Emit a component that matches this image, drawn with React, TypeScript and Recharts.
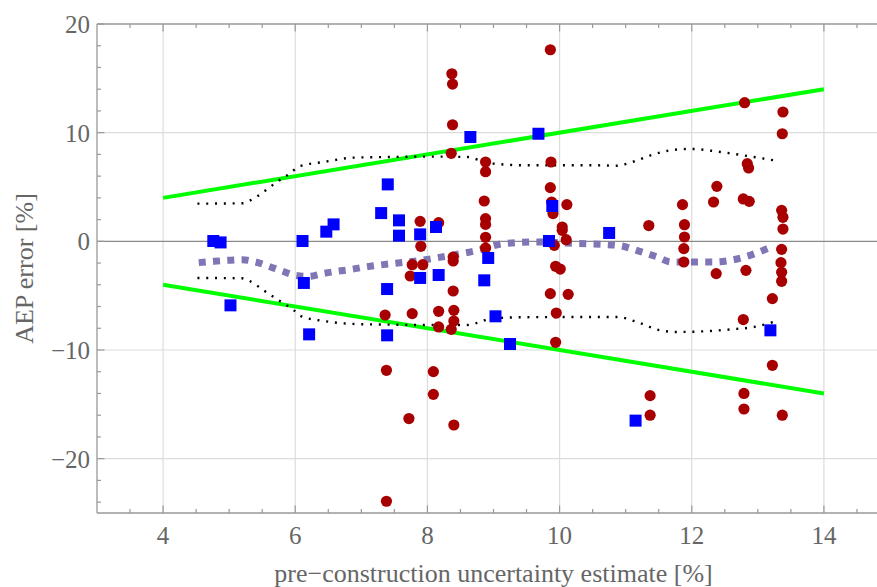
import {
  ComposedChart,
  Line,
  Scatter,
  XAxis,
  YAxis,
  ReferenceLine,
  Label,
} from "recharts";

// ---- data ----
const blueSquares = [
  { x: 4.76, y: 0.03 },
  { x: 4.87, y: -0.1 },
  { x: 5.02, y: -5.89 },
  { x: 6.11, y: 0.03 },
  { x: 6.13, y: -3.83 },
  { x: 6.21, y: -8.56 },
  { x: 6.47, y: 0.89 },
  { x: 6.58, y: 1.56 },
  { x: 7.3, y: 2.6 },
  { x: 7.4, y: 5.24 },
  { x: 7.39, y: -4.39 },
  { x: 7.39, y: -8.65 },
  { x: 7.57, y: 1.93 },
  { x: 7.57, y: 0.52 },
  { x: 7.89, y: 0.64 },
  { x: 8.13, y: 1.32 },
  { x: 8.65, y: 9.6 },
  { x: 9.68, y: 9.9 },
  { x: 9.89, y: 3.25 },
  { x: 9.84, y: 0.03 },
  { x: 10.75, y: 0.77 },
  { x: 8.92, y: -1.53 },
  { x: 7.89, y: -3.37 },
  { x: 8.17, y: -3.1 },
  { x: 8.86, y: -3.59 },
  { x: 9.03, y: -6.9 },
  { x: 9.25, y: -9.45 },
  { x: 11.15, y: -16.5 },
  { x: 13.19, y: -8.19 },
];

const redCircles = [
  { x: 9.86, y: 17.63 },
  { x: 8.37, y: 15.42 },
  { x: 8.38, y: 14.47 },
  { x: 8.38, y: 10.73 },
  { x: 8.36, y: 8.1 },
  { x: 8.88, y: 7.3 },
  { x: 8.88, y: 6.41 },
  { x: 8.86, y: 3.71 },
  { x: 8.88, y: 2.09 },
  { x: 8.88, y: 1.56 },
  { x: 8.88, y: 0.37 },
  { x: 8.88, y: -0.62 },
  { x: 7.89, y: 1.84 },
  { x: 8.17, y: 1.72 },
  { x: 7.9, y: -0.46 },
  { x: 9.87, y: 7.3 },
  { x: 9.86, y: 4.94 },
  { x: 9.88, y: 3.62 },
  { x: 9.9, y: 2.55 },
  { x: 10.11, y: 3.38 },
  { x: 10.04, y: 1.32 },
  { x: 10.04, y: 1.01 },
  { x: 10.1, y: 0.15 },
  { x: 9.92, y: -0.37 },
  { x: 11.35, y: 1.45 },
  { x: 8.39, y: -1.44 },
  { x: 8.39, y: -1.81 },
  { x: 7.77, y: -2.15 },
  { x: 7.93, y: -2.15 },
  { x: 7.74, y: -3.19 },
  { x: 8.39, y: -4.57 },
  { x: 8.4, y: -6.35 },
  { x: 8.4, y: -7.33 },
  { x: 8.36, y: -8.1 },
  { x: 8.17, y: -6.44 },
  { x: 8.17, y: -7.88 },
  { x: 7.77, y: -6.65 },
  { x: 7.36, y: -6.78 },
  { x: 7.38, y: -11.87 },
  { x: 8.09, y: -11.99 },
  { x: 8.09, y: -14.08 },
  { x: 7.72, y: -16.31 },
  { x: 8.4, y: -16.9 },
  { x: 7.38, y: -23.92 },
  { x: 9.94, y: -2.3 },
  { x: 10.01, y: -2.55 },
  { x: 9.86, y: -4.81 },
  { x: 10.13, y: -4.88 },
  { x: 9.95, y: -6.6 },
  { x: 9.94, y: -9.29 },
  { x: 11.37, y: -14.2 },
  { x: 11.37, y: -16.0 },
  { x: 12.8, y: 12.76 },
  { x: 13.38, y: 11.9 },
  { x: 13.37, y: 9.9 },
  { x: 12.84, y: 7.15 },
  { x: 12.86, y: 6.75 },
  { x: 12.38, y: 5.06 },
  { x: 12.33, y: 3.62 },
  { x: 12.78, y: 3.9 },
  { x: 12.87, y: 3.68 },
  { x: 11.86, y: 3.38 },
  { x: 11.89, y: 1.53 },
  { x: 11.89, y: 0.4 },
  { x: 11.88, y: -0.67 },
  { x: 13.36, y: 2.85 },
  { x: 13.38, y: 2.21 },
  { x: 13.38, y: 1.13 },
  { x: 13.36, y: -0.74 },
  { x: 11.88, y: -1.9 },
  { x: 12.37, y: -2.97 },
  { x: 12.82, y: -2.67 },
  { x: 13.35, y: -1.96 },
  { x: 13.36, y: -2.85 },
  { x: 13.36, y: -3.68 },
  { x: 13.22, y: -5.27 },
  { x: 12.78, y: -7.2 },
  { x: 13.22, y: -11.41 },
  { x: 12.79, y: -14.0 },
  { x: 12.79, y: -15.43 },
  { x: 13.37, y: -16.0 },
];

const greenUpper = [
  { x: 4, y: 4 },
  { x: 14, y: 14 },
];
const greenLower = [
  { x: 4, y: -4 },
  { x: 14, y: -14 },
];

const dottedUpper = [
  { x: 4.52, y: 3.47 },
  { x: 5.2, y: 3.5 },
  { x: 5.32, y: 3.77 },
  { x: 5.52, y: 4.54 },
  { x: 5.72, y: 5.46 },
  { x: 5.88, y: 6.07 },
  { x: 6.08, y: 6.93 },
  { x: 6.43, y: 7.3 },
  { x: 6.88, y: 7.7 },
  { x: 7.4, y: 7.76 },
  { x: 8.0, y: 7.8 },
  { x: 8.6, y: 7.76 },
  { x: 8.8, y: 7.45 },
  { x: 9.0, y: 7.15 },
  { x: 9.5, y: 7.0 },
  { x: 10.0, y: 7.0 },
  { x: 10.5, y: 7.0 },
  { x: 10.87, y: 6.96 },
  { x: 11.1, y: 7.3 },
  { x: 11.4, y: 7.95 },
  { x: 11.7, y: 8.4 },
  { x: 12.0, y: 8.5 },
  { x: 12.4, y: 8.25 },
  { x: 12.9, y: 7.8 },
  { x: 13.25, y: 7.45 },
];

const dottedLower = [
  { x: 4.52, y: -3.37 },
  { x: 5.19, y: -3.4 },
  { x: 5.31, y: -3.65 },
  { x: 5.52, y: -4.5 },
  { x: 5.75, y: -5.43 },
  { x: 5.98, y: -6.35 },
  { x: 6.08, y: -6.87 },
  { x: 6.43, y: -7.33 },
  { x: 6.88, y: -7.6 },
  { x: 7.44, y: -7.67 },
  { x: 8.0, y: -7.7 },
  { x: 8.6, y: -7.7 },
  { x: 8.8, y: -7.42 },
  { x: 8.96, y: -7.1 },
  { x: 9.5, y: -6.98 },
  { x: 10.0, y: -6.97 },
  { x: 10.5, y: -6.97 },
  { x: 10.87, y: -6.96 },
  { x: 11.17, y: -7.42 },
  { x: 11.52, y: -8.19 },
  { x: 11.78, y: -8.34 },
  { x: 12.18, y: -8.28 },
  { x: 12.6, y: -8.1 },
  { x: 12.94, y: -7.88 },
  { x: 13.25, y: -7.4 },
];

const purpleMedian = [
  { x: 4.54, y: -1.96 },
  { x: 4.77, y: -1.84 },
  { x: 4.98, y: -1.75 },
  { x: 5.2, y: -1.69 },
  { x: 5.4, y: -1.9 },
  { x: 5.6, y: -2.3 },
  { x: 5.8, y: -2.73 },
  { x: 6.0, y: -3.13 },
  { x: 6.2, y: -3.22 },
  { x: 6.41, y: -2.97 },
  { x: 6.63, y: -2.76 },
  { x: 6.85, y: -2.58 },
  { x: 7.06, y: -2.36 },
  { x: 7.28, y: -2.18 },
  { x: 7.9, y: -1.75 },
  { x: 8.35, y: -1.3 },
  { x: 8.76, y: -0.83 },
  { x: 9.16, y: -0.2 },
  { x: 9.67, y: -0.06 },
  { x: 10.27, y: -0.2 },
  { x: 10.88, y: -0.37 },
  { x: 11.2, y: -0.9 },
  { x: 11.48, y: -1.44 },
  { x: 11.69, y: -1.9 },
  { x: 12.34, y: -1.9 },
  { x: 12.8, y: -1.44 },
  { x: 13.2, y: -0.52 },
];

const xTicks = [3.5, 4, 4.5, 5, 5.5, 6, 6.5, 7, 7.5, 8, 8.5, 9, 9.5, 10, 10.5, 11, 11.5, 12, 12.5, 13, 13.5, 14, 14.5];
const xLabeled = [4, 6, 8, 10, 12, 14];
const yTicks = [-24, -22, -20, -18, -16, -14, -12, -10, -8, -6, -4, -2, 0, 2, 4, 6, 8, 10, 12, 14, 16, 18, 20];
const yLabeled = [-20, -10, 0, 10, 20];
const xGrid = [4, 6, 8, 10, 12, 14];
const yGrid = [-20, -10, 10];

const FRAME = "#999999";
const TEXT = "#666666";
const FONT = "'Liberation Serif', 'DejaVu Serif', serif";

const fmt = (v: number) => (v < 0 ? `\u2212${Math.abs(v)}` : `${v}`);

function BottomTick(props: any) {
  const { x, y, payload } = props;
  const major = xLabeled.includes(payload.value);
  return (
    <g>
      <line x1={x} x2={x} y1={y} y2={y - (major ? 7.5 : 4)} stroke={FRAME} strokeWidth={1.2} />
      {major && (
        <text x={x} y={y + 31} textAnchor="middle" fontSize={25} fill={TEXT} fontFamily={FONT}>
          {fmt(payload.value)}
        </text>
      )}
    </g>
  );
}

function TopTick(props: any) {
  const { x, y, payload } = props;
  const major = xLabeled.includes(payload.value);
  return <line x1={x} x2={x} y1={y} y2={y + (major ? 7.5 : 4)} stroke={FRAME} strokeWidth={1.2} />;
}

function LeftTick(props: any) {
  const { x, y, payload } = props;
  const major = yLabeled.includes(payload.value);
  return (
    <g>
      <line x1={x} x2={x + (major ? 7.5 : 4)} y1={y} y2={y} stroke={FRAME} strokeWidth={1.2} />
      {major && (
        <text x={x - 7} y={y + 9} textAnchor="end" fontSize={25} fill={TEXT} fontFamily={FONT}>
          {fmt(payload.value)}
        </text>
      )}
    </g>
  );
}

const Square = (props: any) => {
  const { cx, cy } = props;
  if (cx == null || cy == null) return <g />;
  return <rect x={cx - 6} y={cy - 6} width={12} height={12} fill="#0000FF" />;
};

const Dot = (props: any) => {
  const { cx, cy } = props;
  if (cx == null || cy == null) return <g />;
  return <circle cx={cx} cy={cy} r={5.6} fill="#A80000" />;
};

export default function App() {
  return (
    <div style={{ position: "absolute", left: 0, top: 0, width: 877, height: 587, overflow: "hidden", background: "#fff" }}>
      <ComposedChart width={890} height={587} margin={{ top: 0, right: 0, bottom: 0, left: 0 }}>
        <XAxis
          xAxisId="top"
          orientation="top"
          type="number"
          dataKey="x"
          domain={[3, 15]}
          allowDataOverflow
          ticks={xTicks}
          interval={0}
          height={24}
          tickLine={false}
          tickSize={0}
          tickMargin={0}
          tick={<TopTick />}
          axisLine={{ stroke: FRAME, strokeWidth: 1.3 }}
        />
        <XAxis
          type="number"
          dataKey="x"
          domain={[3, 15]}
          allowDataOverflow
          ticks={xTicks}
          interval={0}
          height={74}
          tickLine={false}
          tickSize={0}
          tickMargin={0}
          tick={<BottomTick />}
          axisLine={{ stroke: FRAME, strokeWidth: 1.3 }}
        >
          <Label
            content={(p: any) => {
              const vb = p.viewBox;
              return (
                <text
                  x={vb.x + vb.width / 2}
                  y={vb.y + 69}
                  textAnchor="middle"
                  fontSize={26}
                  fill={TEXT}
                  fontFamily={FONT}
                >
                  {"pre\u2212construction uncertainty estimate [%]"}
                </text>
              );
            }}
          />
        </XAxis>
        <YAxis
          type="number"
          dataKey="y"
          domain={[-25, 20]}
          allowDataOverflow
          ticks={yTicks}
          interval={0}
          width={97}
          tickLine={false}
          tickSize={0}
          tickMargin={0}
          tick={<LeftTick />}
          axisLine={{ stroke: FRAME, strokeWidth: 1.3 }}
        >
          <Label
            content={(p: any) => {
              const vb = p.viewBox;
              const cy = vb.y + vb.height / 2;
              return (
                <text
                  x={33}
                  y={cy}
                  transform={`rotate(-90, 33, ${cy})`}
                  textAnchor="middle"
                  fontSize={26}
                  fill={TEXT}
                  fontFamily={FONT}
                >
                  AEP error [%]
                </text>
              );
            }}
          />
        </YAxis>

        {xGrid.map((v) => (
          <ReferenceLine key={`gx${v}`} x={v} stroke="#dcdcdc" strokeWidth={1.2} zIndex={-50} />
        ))}
        {yGrid.map((v) => (
          <ReferenceLine key={`gy${v}`} y={v} stroke="#dcdcdc" strokeWidth={1.2} zIndex={-50} />
        ))}
        <ReferenceLine y={0} stroke="#8a8a8a" strokeWidth={1.4} zIndex={-40} />

        <Line data={greenUpper} dataKey="y" type="linear" stroke="#00FF00" strokeWidth={4} dot={false} isAnimationActive={false} />
        <Line data={greenLower} dataKey="y" type="linear" stroke="#00FF00" strokeWidth={4} dot={false} isAnimationActive={false} />
        <Line
          data={dottedUpper}
          dataKey="y"
          type="monotone"
          stroke="#000"
          strokeWidth={2.4}
          strokeDasharray="2 6.8"
          dot={false}
          isAnimationActive={false}
        />
        <Line
          data={dottedLower}
          dataKey="y"
          type="monotone"
          stroke="#000"
          strokeWidth={2.4}
          strokeDasharray="2 6.8"
          dot={false}
          isAnimationActive={false}
        />
        <Line
          data={purpleMedian}
          dataKey="y"
          type="monotone"
          stroke="#8075B5"
          strokeWidth={7}
          strokeDasharray="7 7.3"
          dot={false}
          isAnimationActive={false}
        />
        <Scatter data={redCircles} dataKey="y" shape={<Dot />} isAnimationActive={false} />
        <Scatter data={blueSquares} dataKey="y" shape={<Square />} isAnimationActive={false} />
      </ComposedChart>
    </div>
  );
}
